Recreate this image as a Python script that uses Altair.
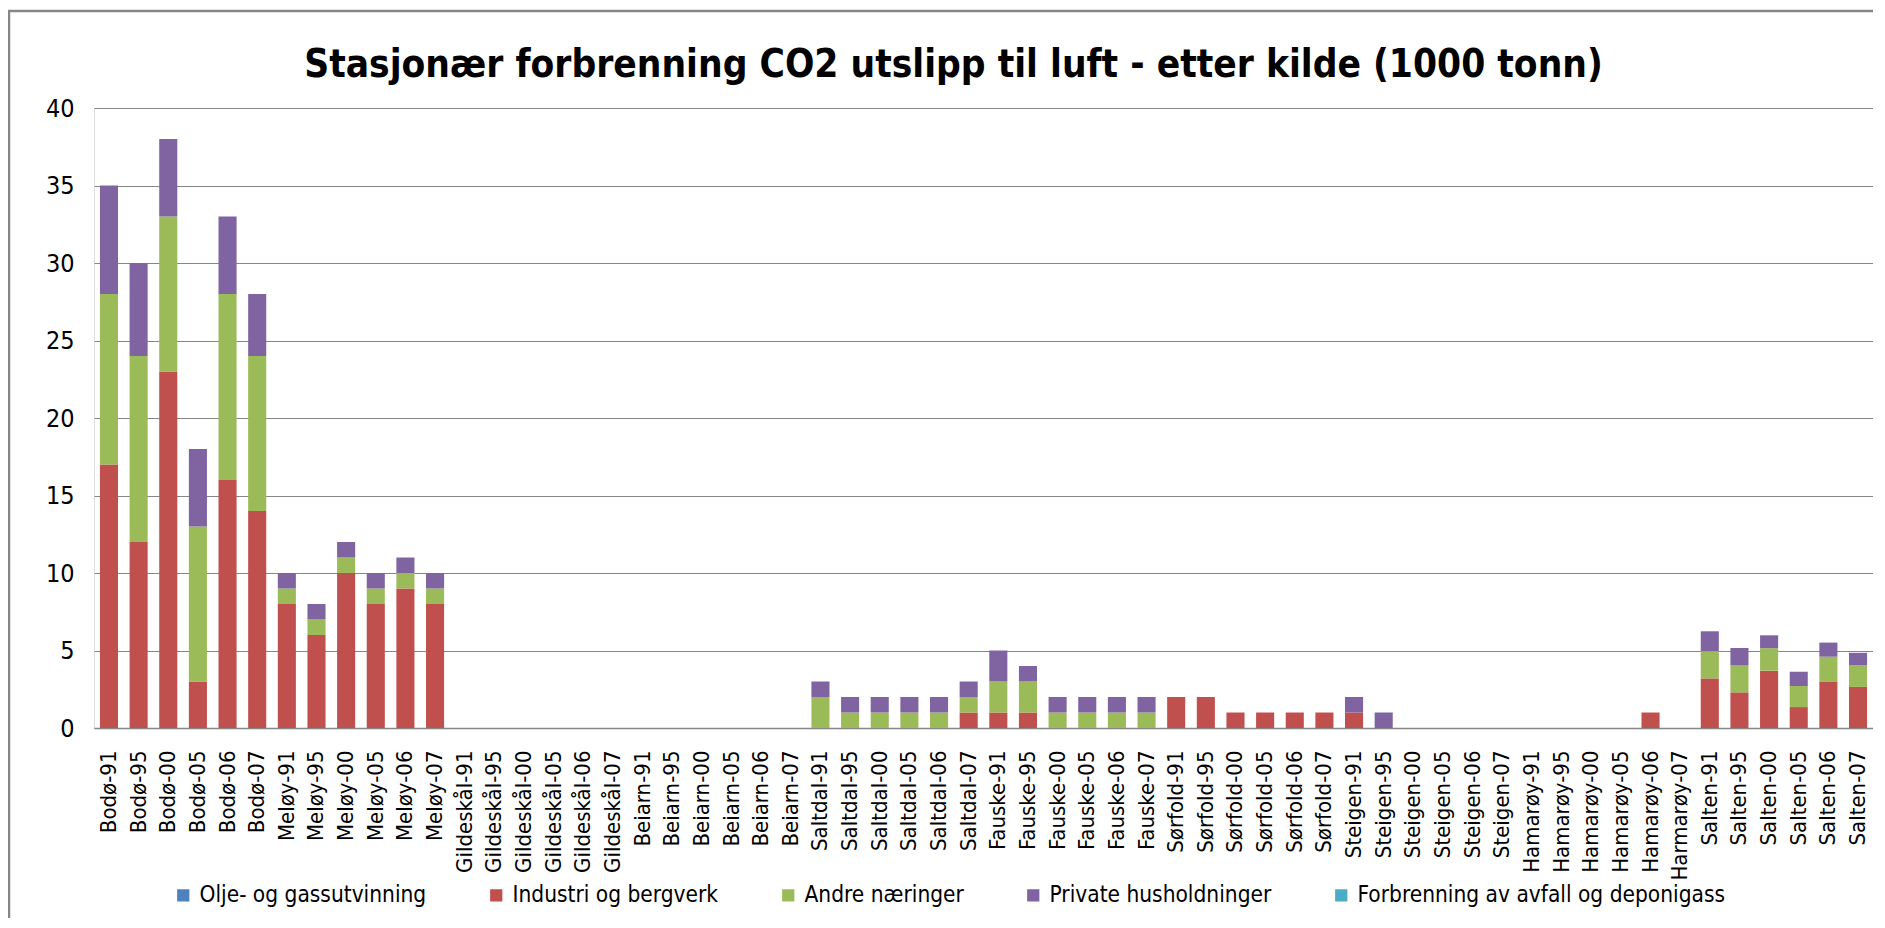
import altair as alt
import pandas as pd

categories = [
    "Bodø-91", "Bodø-95", "Bodø-00", "Bodø-05", "Bodø-06", "Bodø-07",
    "Meløy-91", "Meløy-95", "Meløy-00", "Meløy-05", "Meløy-06", "Meløy-07",
    "Gildeskål-91", "Gildeskål-95", "Gildeskål-00", "Gildeskål-05", "Gildeskål-06", "Gildeskål-07",
    "Beiarn-91", "Beiarn-95", "Beiarn-00", "Beiarn-05", "Beiarn-06", "Beiarn-07",
    "Saltdal-91", "Saltdal-95", "Saltdal-00", "Saltdal-05", "Saltdal-06", "Saltdal-07",
    "Fauske-91", "Fauske-95", "Fauske-00", "Fauske-05", "Fauske-06", "Fauske-07",
    "Sørfold-91", "Sørfold-95", "Sørfold-00", "Sørfold-05", "Sørfold-06", "Sørfold-07",
    "Steigen-91", "Steigen-95", "Steigen-00", "Steigen-05", "Steigen-06", "Steigen-07",
    "Hamarøy-91", "Hamarøy-95", "Hamarøy-00", "Hamarøy-05", "Hamarøy-06", "Harmarøy-07",
    "Salten-91", "Salten-95", "Salten-00", "Salten-05", "Salten-06", "Salten-07",
]

series = [
    "Olje- og gassutvinning",
    "Industri og bergverk",
    "Andre næringer",
    "Private husholdninger",
    "Forbrenning av avfall og deponigass",
]
colors = ["#4F81BD", "#C0504D", "#9BBB59", "#8064A2", "#4BACC6"]

olje = [0] * 60
industri = [17, 12, 23, 3, 16, 14,
            8, 6, 10, 8, 9, 8,
            0, 0, 0, 0, 0, 0,
            0, 0, 0, 0, 0, 0,
            0, 0, 0, 0, 0, 1,
            1, 1, 0, 0, 0, 0,
            2, 2, 1, 1, 1, 1,
            1, 0, 0, 0, 0, 0,
            0, 0, 0, 0, 1, 0,
            3.2, 2.3, 3.7, 1.35, 2.97, 2.65]
andre = [11, 12, 10, 10, 12, 10,
         1, 1, 1, 1, 1, 1,
         0, 0, 0, 0, 0, 0,
         0, 0, 0, 0, 0, 0,
         2, 1, 1, 1, 1, 1,
         2, 2, 1, 1, 1, 1,
         0, 0, 0, 0, 0, 0,
         0, 0, 0, 0, 0, 0,
         0, 0, 0, 0, 0, 0,
         1.76, 1.73, 1.45, 1.36, 1.63, 1.39]
private = [7, 6, 5, 5, 5, 4,
           1, 1, 1, 1, 1, 1,
           0, 0, 0, 0, 0, 0,
           0, 0, 0, 0, 0, 0,
           1, 1, 1, 1, 1, 1,
           2, 1, 1, 1, 1, 1,
           0, 0, 0, 0, 0, 0,
           1, 1, 0, 0, 0, 0,
           0, 0, 0, 0, 0, 0,
           1.28, 1.13, 0.83, 0.92, 0.91, 0.81]
forbrenning = [0] * 60

y_ticks = [0, 5, 10, 15, 20, 25, 30, 35, 40]
title_text = "Stasjonær forbrenning CO2 utslipp til luft - etter kilde (1000 tonn)"

rows = []
for si, (name, vals) in enumerate(zip(series, [olje, industri, andre, private, forbrenning])):
    for c, v in zip(categories, vals):
        rows.append({"kategori": c, "kilde": name, "verdi": v, "rekkefolge": si})
df = pd.DataFrame(rows)

W, H = 1779, 620
FONT = "'DejaVu Sans Condensed', 'Liberation Sans Narrow', Lato, sans-serif"

bars = alt.Chart(df).mark_bar().encode(
    x=alt.X(
        "kategori:N",
        sort=categories,
        scale=alt.Scale(paddingInner=0.39, paddingOuter=0.2),
        axis=alt.Axis(
            title=None, labelAngle=270, labelFontSize=22, labelPadding=22,
            ticks=False, domainColor="#868686", domainWidth=1.5, labelFont=FONT,
            labelColor="black", grid=False, labelOverlap=False, labelLimit=0,
        ),
    ),
    y=alt.Y(
        "verdi:Q",
        stack="zero",
        scale=alt.Scale(domain=[0, 40], nice=False),
        axis=alt.Axis(
            title=None, values=y_ticks, domain=False, ticks=False,
            labelFontSize=25, labelPadding=20, labelFont=FONT, labelColor="black",
            gridColor="#868686", gridWidth=1,
        ),
    ),
    color=alt.Color(
        "kilde:N",
        sort=series,
        scale=alt.Scale(domain=series, range=colors),
        legend=alt.Legend(
            title=None, orient="none", direction="horizontal", columns=5,
            legendX=78, legendY=776, symbolType="square", symbolSize=150,
            labelFontSize=22.5, columnPadding=58, labelFont=FONT, labelColor="black",
            symbolStrokeWidth=0, labelOffset=5, labelLimit=0,
        ),
    ),
    order=alt.Order("rekkefolge:Q", sort="ascending"),
)

border = alt.Chart(pd.DataFrame({"a": [0]})).mark_rect(
    fillOpacity=0, stroke="#868686", strokeWidth=2.5, clip=False
).encode(
    x=alt.value(-85), x2=alt.value(W + 200),
    y=alt.value(-97), y2=alt.value(H + 400),
)

title = alt.Chart(pd.DataFrame({"t": [title_text]})).mark_text(
    font=FONT, fontSize=38.5, fontWeight="bold", color="black",
    align="center", baseline="middle", clip=False,
).encode(
    text="t:N", x=alt.value(W / 2 - 30), y=alt.value(-43),
)

chart = alt.layer(border, bars, title).properties(
    width=W,
    height=H,
    padding={"left": 86, "top": 100, "right": 0, "bottom": 190},
    autosize=alt.AutoSizeParams(type="none"),
).configure_view(stroke=None).configure(background="white")

chart.save("out.html", embed_options={"renderer": "svg", "actions": False})
